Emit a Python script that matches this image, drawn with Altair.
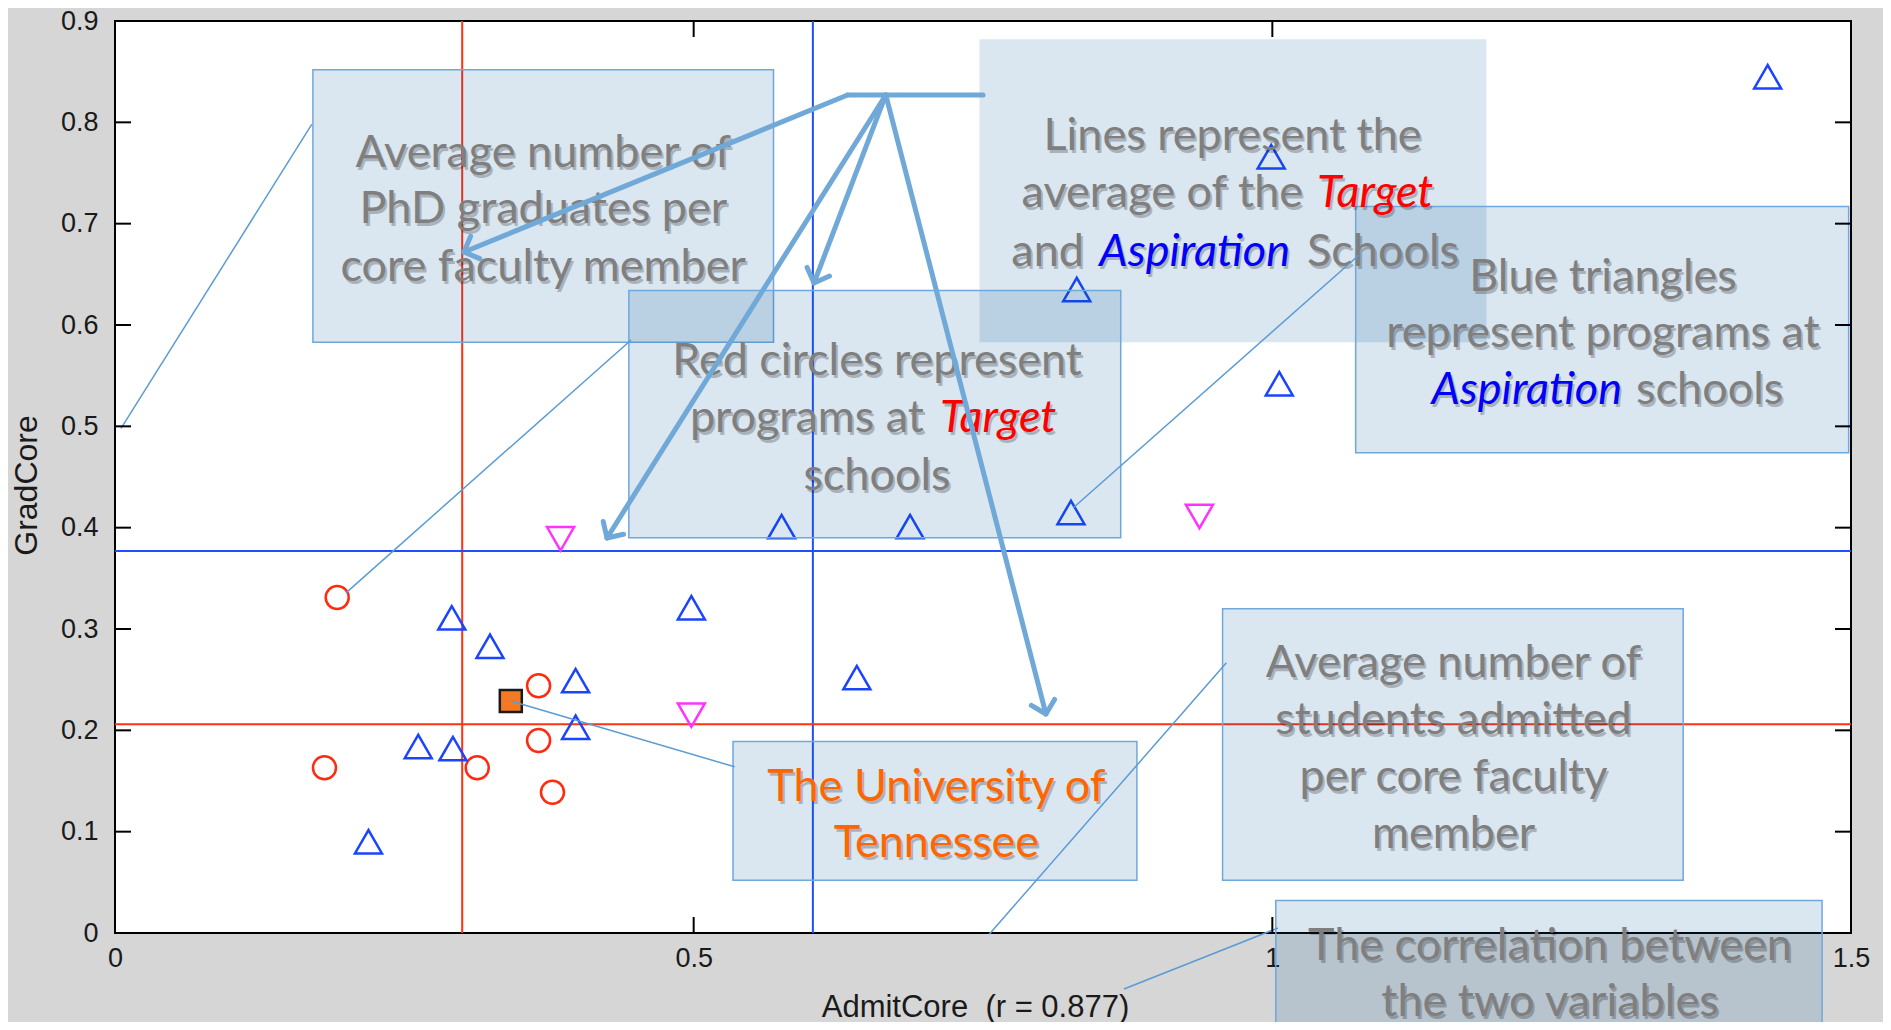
import math
import altair as alt
import pandas as pd

# ---------------- data ----------------
target_x = [0.192, 0.366, 0.366, 0.181, 0.313, 0.378]
target_y = [0.331, 0.244, 0.190, 0.163, 0.163, 0.139]

asp_x = [0.291, 0.324, 0.398, 0.398, 0.262, 0.292, 0.219, 0.498, 0.641,
         0.576, 0.687, 0.826, 1.006, 0.831, 0.999, 1.428]
asp_y = [0.311, 0.283, 0.249, 0.203, 0.184, 0.182, 0.090, 0.321, 0.252,
         0.401, 0.401, 0.415, 0.542, 0.635, 0.766, 0.845]

other_x = [0.385, 0.498, 0.937]
other_y = [0.389, 0.215, 0.411]

ut_x = [0.342]
ut_y = [0.229]

mean_x_vals = [0.300, 0.603]
mean_x_cols = ["#ff3311", "#1f4fff"]
mean_y_vals = [0.206, 0.377]
mean_y_cols = ["#ff3311", "#1f4fff"]

x_ticks = [0, 0.5, 1, 1.5]
y_ticks = [0, 0.1, 0.2, 0.3, 0.4, 0.5, 0.6, 0.7, 0.8, 0.9]

# call-out boxes (data units)
box_x1 = [0.171, 0.747, 0.444, 1.072, 0.534, 0.957, 1.003]
box_x2 = [0.569, 1.185, 0.869, 1.498, 0.883, 1.355, 1.475]
box_top = [0.852, 0.882, 0.634, 0.717, 0.189, 0.320, 0.032]
box_bot = [0.583, 0.583, 0.390, 0.474, 0.052, 0.052, -0.106]
box_border = [1, 0, 1, 1, 1, 1, 1]

# thin leader lines
ld_x1 = [0.170, 0.4459, 1.0749, 0.5354, 0.9603, 1.0049]
ld_y1 = [0.798, 0.5852, 0.6691, 0.1640, 0.2667, 0.0049]
ld_x2 = [0.0052, 0.1996, 0.8278, 0.342, 0.7554, 0.8718]
ld_y2 = [0.498, 0.3357, 0.4194, 0.229, -0.0012, -0.0553]

# thick arrows
arr_x1 = [0.750, 0.633, 0.666, 0.666, 0.666]
arr_y1 = [0.827, 0.827, 0.827, 0.827, 0.827]
arr_x2 = [0.633, 0.3016, 0.4251, 0.604, 0.8044]
arr_y2 = [0.827, 0.672, 0.3898, 0.6415, 0.2161]
arr_head = [0, 1, 1, 1, 1]

# text segments
seg_text = ["Average number of", "PhD graduates per", "core faculty member",
            "Lines represent the", "average of the", "Target", "and", "Aspiration", "Schools",
            "Red circles represent", "programs at", "Target", "schools",
            "Blue triangles", "represent programs at", "Aspiration", "schools",
            "The University of", "Tennessee",
            "Average number of", "students admitted", "per core faculty", "member",
            "The correlation between", "the two variables"]
seg_x = [0.370, 0.370, 0.370,
         0.9656, 1.0265, 1.0386, 0.8373, 0.9329, 1.0300,
         0.6584, 0.6990, 0.7128, 0.6584,
         1.2857, 1.2857, 1.3022, 1.3143,
         0.7098, 0.7098,
         1.1565, 1.1565, 1.1565, 1.1565,
         1.2399, 1.2399]
seg_y = [0.770, 0.714, 0.657,
         0.787, 0.730, 0.730, 0.672, 0.672, 0.672,
         0.564, 0.508, 0.508, 0.451,
         0.647, 0.592, 0.536, 0.536,
         0.144, 0.089,
         0.266, 0.210, 0.154, 0.098,
         -0.0128, -0.0676]
seg_kind = ["gc", "gc", "gc",
            "gc", "gr", "ril", "gr", "bic", "gl",
            "gc", "gr", "ril", "gc",
            "gc", "gc", "bir", "gl",
            "oc", "oc",
            "gc", "gc", "gc", "gc",
            "gc", "gc"]

# ---------------- chart ----------------
W, H = 1736, 912
XD, YD = [0, 1.5], [0, 0.9]
xs = alt.Scale(domain=XD, nice=False, zero=False)
ys = alt.Scale(domain=YD, nice=False, zero=False)

AX_FONT = "Liberation Sans"
x_axis = alt.Axis(values=x_ticks, format="~g", ticks=False, tickSize=0, domain=False, grid=False,
                  labelFlush=False, labelOverlap=False,
                  labelFont=AX_FONT, labelFontSize=27, labelColor="#1a1a1a", labelPadding=12,
                  title="AdmitCore\u00a0 (r = 0.877)", titleFont=AX_FONT, titleFontSize=31,
                  titleFontWeight="normal", titleColor="#1a1a1a", titleX=860, titleY=74,
                  titleBaseline="middle", titleAlign="center")
y_axis = alt.Axis(values=y_ticks, format="~g", ticks=False, tickSize=0, domain=False, grid=False,
                  labelFlush=False, labelOverlap=False,
                  labelFont=AX_FONT, labelFontSize=27, labelColor="#1a1a1a", labelPadding=17,
                  title="GradCore", titleFont=AX_FONT, titleFontSize=32,
                  titleFontWeight="normal", titleColor="#1a1a1a", titleX=-89, titleY=464,
                  titleAngle=270, titleBaseline="middle", titleAlign="center")


def X(f):
    return alt.X(f"{f}:Q", scale=xs, axis=x_axis)


def Y(f):
    return alt.Y(f"{f}:Q", scale=ys, axis=y_axis)


layers = []

# mean reference lines
mx = pd.DataFrame({"x": mean_x_vals, "c": mean_x_cols})
my = pd.DataFrame({"y": mean_y_vals, "c": mean_y_cols})
layers.append(alt.Chart(mx).mark_rule(strokeWidth=2).encode(x=X("x"), color=alt.Color("c:N", scale=None)))
layers.append(alt.Chart(my).mark_rule(strokeWidth=2).encode(y=Y("y"), color=alt.Color("c:N", scale=None)))

# markers
dt = pd.DataFrame({"x": target_x, "y": target_y})
da = pd.DataFrame({"x": asp_x, "y": asp_y})
do = pd.DataFrame({"x": other_x, "y": other_y})
du = pd.DataFrame({"x": ut_x, "y": ut_y})
layers.append(alt.Chart(dt).mark_point(shape="circle", filled=False, size=529, strokeWidth=2.5,
                                       color="#ff2a0f", opacity=1).encode(x=X("x"), y=Y("y")))
layers.append(alt.Chart(da).mark_point(shape="triangle-up", filled=False, size=729, strokeWidth=2.5,
                                       color="#1a44ff", opacity=1).encode(x=X("x"), y=Y("y")))
layers.append(alt.Chart(do).mark_point(shape="triangle-down", filled=False, size=729, strokeWidth=2.5,
                                       color="#ff33ff", opacity=1).encode(x=X("x"), y=Y("y")))
layers.append(alt.Chart(du).mark_point(shape="square", filled=True, size=484, strokeWidth=2.5,
                                       fill="#f47920", stroke="#1a1a1a", opacity=1, fillOpacity=1)
              .encode(x=X("x"), y=Y("y")))

# call-out boxes
db = pd.DataFrame({"x1": box_x1, "x2": box_x2, "y1": box_top, "y2": box_bot, "b": box_border})
layers.append(alt.Chart(db).mark_rect(fill="#025398", fillOpacity=0.146, stroke="#6fa8dc",
                                      strokeWidth=1.5, clip=False)
              .encode(x=X("x1"), x2="x2", y=Y("y1"), y2="y2",
                      strokeOpacity=alt.StrokeOpacity("b:Q", scale=None)))

# text
ds = pd.DataFrame({"t": seg_text, "x": seg_x, "y": seg_y, "k": seg_kind})
styles = {
    "gc": ("center", "normal", "#7f7f7f"),
    "gr": ("right", "normal", "#7f7f7f"),
    "gl": ("left", "normal", "#7f7f7f"),
    "ril": ("left", "italic", "#ff0000"),
    "bic": ("center", "italic", "#0000ff"),
    "bir": ("right", "italic", "#0000ff"),
    "oc": ("center", "normal", "#ff6600"),
}
TF, TS = "Lato", 45
for k, (al, st, col) in styles.items():
    sub = ds[ds["k"] == k]
    layers.append(alt.Chart(sub).mark_text(font=TF, fontSize=TS, align=al, baseline="middle",
                                           fontStyle=st, color="#000000", opacity=0.22, dx=2, dy=3)
                  .encode(x=X("x"), y=Y("y"), text="t:N"))
    layers.append(alt.Chart(sub).mark_text(font=TF, fontSize=TS, align=al, baseline="middle",
                                           fontStyle=st, color=col)
                  .encode(x=X("x"), y=Y("y"), text="t:N"))

# thin leader lines
dl = pd.DataFrame({"x1": ld_x1, "y1": ld_y1, "x2": ld_x2, "y2": ld_y2})
layers.append(alt.Chart(dl).mark_rule(color="#5b9bd5", strokeWidth=1.5)
              .encode(x=X("x1"), y=Y("y1"), x2="x2", y2="y2"))

# thick arrows
sx, sy = W / (XD[1] - XD[0]), H / (YD[1] - YD[0])
angles = []
for a, b, c, d in zip(arr_x1, arr_y1, arr_x2, arr_y2):
    dxp = (c - a) * sx
    dyp = -(d - b) * sy
    angles.append(math.degrees(math.atan2(dxp, -dyp)) % 360)
dar = pd.DataFrame({"x1": arr_x1, "y1": arr_y1, "x2": arr_x2, "y2": arr_y2,
                    "h": arr_head, "ang": angles})
layers.append(alt.Chart(dar).mark_rule(color="#70a8d8", strokeWidth=5, strokeCap="round")
              .encode(x=X("x1"), y=Y("y1"), x2="x2", y2="y2"))
layers.append(alt.Chart(dar[dar["h"] == 1]).mark_point(shape="M-1,1L0,0L1,1", filled=False, size=576,
                                                       strokeWidth=5, color="#70a8d8", opacity=1,
                                                       strokeCap="round", strokeJoin="round")
              .encode(x=X("x2"), y=Y("y2"), angle=alt.Angle("ang:Q", scale=None)))

# inward ticks on all four sides (MATLAB style box)
TL = 16
dxt = pd.DataFrame({"x": x_ticks})
dyt = pd.DataFrame({"y": y_ticks})
layers.append(alt.Chart(dxt).mark_rule(color="#000", strokeWidth=2)
              .encode(x=X("x"), y=alt.value(H), y2=alt.value(H - TL)))
layers.append(alt.Chart(dxt).mark_rule(color="#000", strokeWidth=2)
              .encode(x=X("x"), y=alt.value(0), y2=alt.value(TL)))
layers.append(alt.Chart(dyt).mark_rule(color="#000", strokeWidth=2)
              .encode(y=Y("y"), x=alt.value(0), x2=alt.value(TL)))
layers.append(alt.Chart(dyt).mark_rule(color="#000", strokeWidth=2)
              .encode(y=Y("y"), x=alt.value(W - TL), x2=alt.value(W)))

chart = (
    alt.layer(*layers)
    .properties(width=W, height=H,
                padding={"left": 107, "top": 13, "right": 32, "bottom": 89},
                autosize=alt.AutoSizeParams(type="none"))
    .configure(background="#d6d6d6")
    .configure_view(fill="white", stroke="#000000", strokeWidth=2)
)

chart.save("out.html", embed_options={"renderer": "svg", "actions": False})
